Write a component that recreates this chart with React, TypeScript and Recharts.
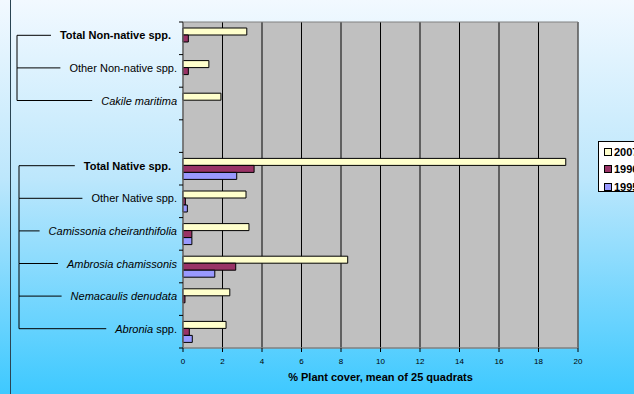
import React from 'react';
import {
    BarChart,
    Bar,
    XAxis,
    YAxis,
    CartesianGrid,
    ReferenceArea,
} from 'recharts';

const categories = [
    'Total Non-native spp.',
    'Other Non-native spp.',
    'Cakile maritima',
    '',
    'Total Native spp.',
    'Other Native spp.',
    'Camissonia cheiranthifolia',
    'Ambrosia chamissonis',
    'Nemacaulis denudata',
    'Abronia spp.',
];
const cover2007 = [3.23, 1.31, 1.92, null, 19.38, 3.19, 3.34, 8.34, 2.37, 2.18];
const cover1996 = [0.27, 0.27, 0, null, 3.6, 0.12, 0.45, 2.67, 0.1, 0.32];
const cover1995 = [0, 0, 0, null, 2.72, 0.22, 0.45, 1.61, 0, 0.47];
const xTicks = [0, 2, 4, 6, 8, 10, 12, 14, 16, 18, 20];

const nonNativeGroup = ['Total Non-native spp.', 'Other Non-native spp.', 'Cakile maritima'];
const nativeGroup = [
    'Total Native spp.',
    'Other Native spp.',
    'Camissonia cheiranthifolia',
    'Ambrosia chamissonis',
    'Nemacaulis denudata',
    'Abronia spp.',
];
const italicNames = [
    'Cakile maritima',
    'Camissonia cheiranthifolia',
    'Ambrosia chamissonis',
    'Nemacaulis denudata',
];

const data = categories.map((name, i) => ({
    name,
    y2007: cover2007[i],
    y1996: cover1996[i],
    y1995: cover1995[i],
}));

const FONT = '"Liberation Sans", Arial, sans-serif';
const BAND = 32.6;
const LABEL_SIZE = 11;

let ctx: CanvasRenderingContext2D | null = null;
function measure(text: string, style: string) {
    if (!ctx) ctx = document.createElement('canvas').getContext('2d');
    if (!ctx) return text.length * 5.5;
    ctx.font = `${style} ${LABEL_SIZE}px ${FONT}`;
    return ctx.measureText(text).width;
}

function CategoryTick(props: any) {
    const { y, payload, index } = props;
    const name: string = payload.value;
    const ty = y - 3;
    const marks = (
        <>
            <line x1={179} x2={183} y1={y - BAND / 2} y2={y - BAND / 2} stroke="#000" />
            {index === categories.length - 1 && (
                <line x1={179} x2={183} y1={y + BAND / 2} y2={y + BAND / 2} stroke="#000" />
            )}
        </>
    );
    if (!name) return <g>{marks}</g>;

    const bold = name.startsWith('Total');
    const italic = italicNames.includes(name);
    const right = bold ? 171 : 177;
    let w: number;
    let label: React.ReactNode;
    if (name === 'Abronia spp.') {
        w = measure('Abronia', 'italic') + measure(' spp.', 'normal');
        label = (
            <>
                <tspan fontStyle="italic">Abronia</tspan>
                <tspan> spp.</tspan>
            </>
        );
    } else {
        w = measure(name, bold ? 'bold' : italic ? 'italic' : 'normal');
        label = name;
    }
    const group = nonNativeGroup.includes(name) ? nonNativeGroup : nativeGroup;
    const gx = group === nonNativeGroup ? 17 : 19;
    const first = group[0] === name;

    return (
        <g>
            {marks}
            <line x1={gx} x2={right - w - 9} y1={ty} y2={ty} stroke="#000" />
            {!first && <line x1={gx} x2={gx} y1={ty - BAND} y2={ty} stroke="#000" />}
            <text
                x={right}
                y={ty}
                textAnchor="end"
                dominantBaseline="central"
                fontSize={LABEL_SIZE}
                fontFamily={FONT}
                fontWeight={bold ? 'bold' : 'normal'}
                fontStyle={italic ? 'italic' : 'normal'}
                fill="#000"
            >
                {label}
            </text>
        </g>
    );
}

const seriesInfo = [
    { key: 'y2007', label: '2007', color: '#ffffcc' },
    { key: 'y1996', label: '1996', color: '#993366' },
    { key: 'y1995', label: '1995', color: '#9999ff' },
];

function YearLegend() {
    return (
        <div
            style={{
                position: 'absolute',
                left: 598,
                top: 141,
                border: '1px solid #000',
                background: '#fff',
                width: 50,
                height: 49,
                fontFamily: FONT,
                fontWeight: 'bold',
                fontSize: 11,
            }}
        >
            {seriesInfo.map((s, i) => (
                <div
                    key={s.key}
                    style={{
                        position: 'absolute',
                        left: 5,
                        top: 3 + i * 17.5,
                        display: 'flex',
                        alignItems: 'center',
                        height: 13,
                        whiteSpace: 'nowrap',
                    }}
                >
                    <span
                        style={{
                            display: 'inline-block',
                            width: 6,
                            height: 6,
                            border: '1px solid #000',
                            background: s.color,
                            marginRight: 2,
                        }}
                    />
                    {s.label}
                </div>
            ))}
        </div>
    );
}

export default function App() {
    return (
        <div
            style={{
                position: 'absolute',
                left: 0,
                top: 0,
                width: 634,
                height: 394,
                overflow: 'hidden',
                background:
                    'linear-gradient(to bottom, #f2f9ff 0%, #bde7fc 45%, #3ec9ff 100%)',
            }}
        >
            <div
                style={{
                    position: 'absolute',
                    left: 10,
                    top: 0,
                    width: 1,
                    height: 394,
                    background: '#2a4452',
                }}
            />
            <BarChart
                width={634}
                height={394}
                data={data}
                layout="vertical"
                margin={{ top: 22, right: 56, bottom: 16, left: 8 }}
                barSize={7}
                barGap={0}
            >
                <CartesianGrid
                    horizontal={false}
                    stroke="#000"
                    fill="#c0c0c0"
                    fillOpacity={1}
                />
                <ReferenceArea
                    x1={0}
                    x2={20}
                    fill="none"
                    fillOpacity={0}
                    stroke="#808080"
                    strokeWidth={1}
                />
                <XAxis
                    type="number"
                    domain={[0, 20]}
                    ticks={xTicks}
                    interval={0}
                    height={30}
                    axisLine={{ stroke: '#808080' }}
                    tickLine={{ stroke: '#000' }}
                    tickSize={4}
                    tickMargin={6}
                    tick={{ fontSize: 8, fill: '#000', fontFamily: FONT }}
                    label={{
                        value: '% Plant cover, mean of 25 quadrats',
                        position: 'bottom',
                        offset: -5,
                        style: { fontSize: 11, fontWeight: 'bold', fill: '#000', fontFamily: FONT },
                    }}
                />
                <YAxis
                    type="category"
                    dataKey="name"
                    width={175}
                    interval={0}
                    axisLine={{ stroke: '#808080' }}
                    tickLine={false}
                    tick={(p: any) => <CategoryTick {...p} />}
                />
                {seriesInfo.map((s) => (
                    <Bar
                        key={s.key}
                        dataKey={s.key}
                        name={s.label}
                        fill={s.color}
                        stroke="#000"
                        strokeWidth={1}
                        isAnimationActive={false}
                    />
                ))}
            </BarChart>
            <YearLegend />
        </div>
    );
}
